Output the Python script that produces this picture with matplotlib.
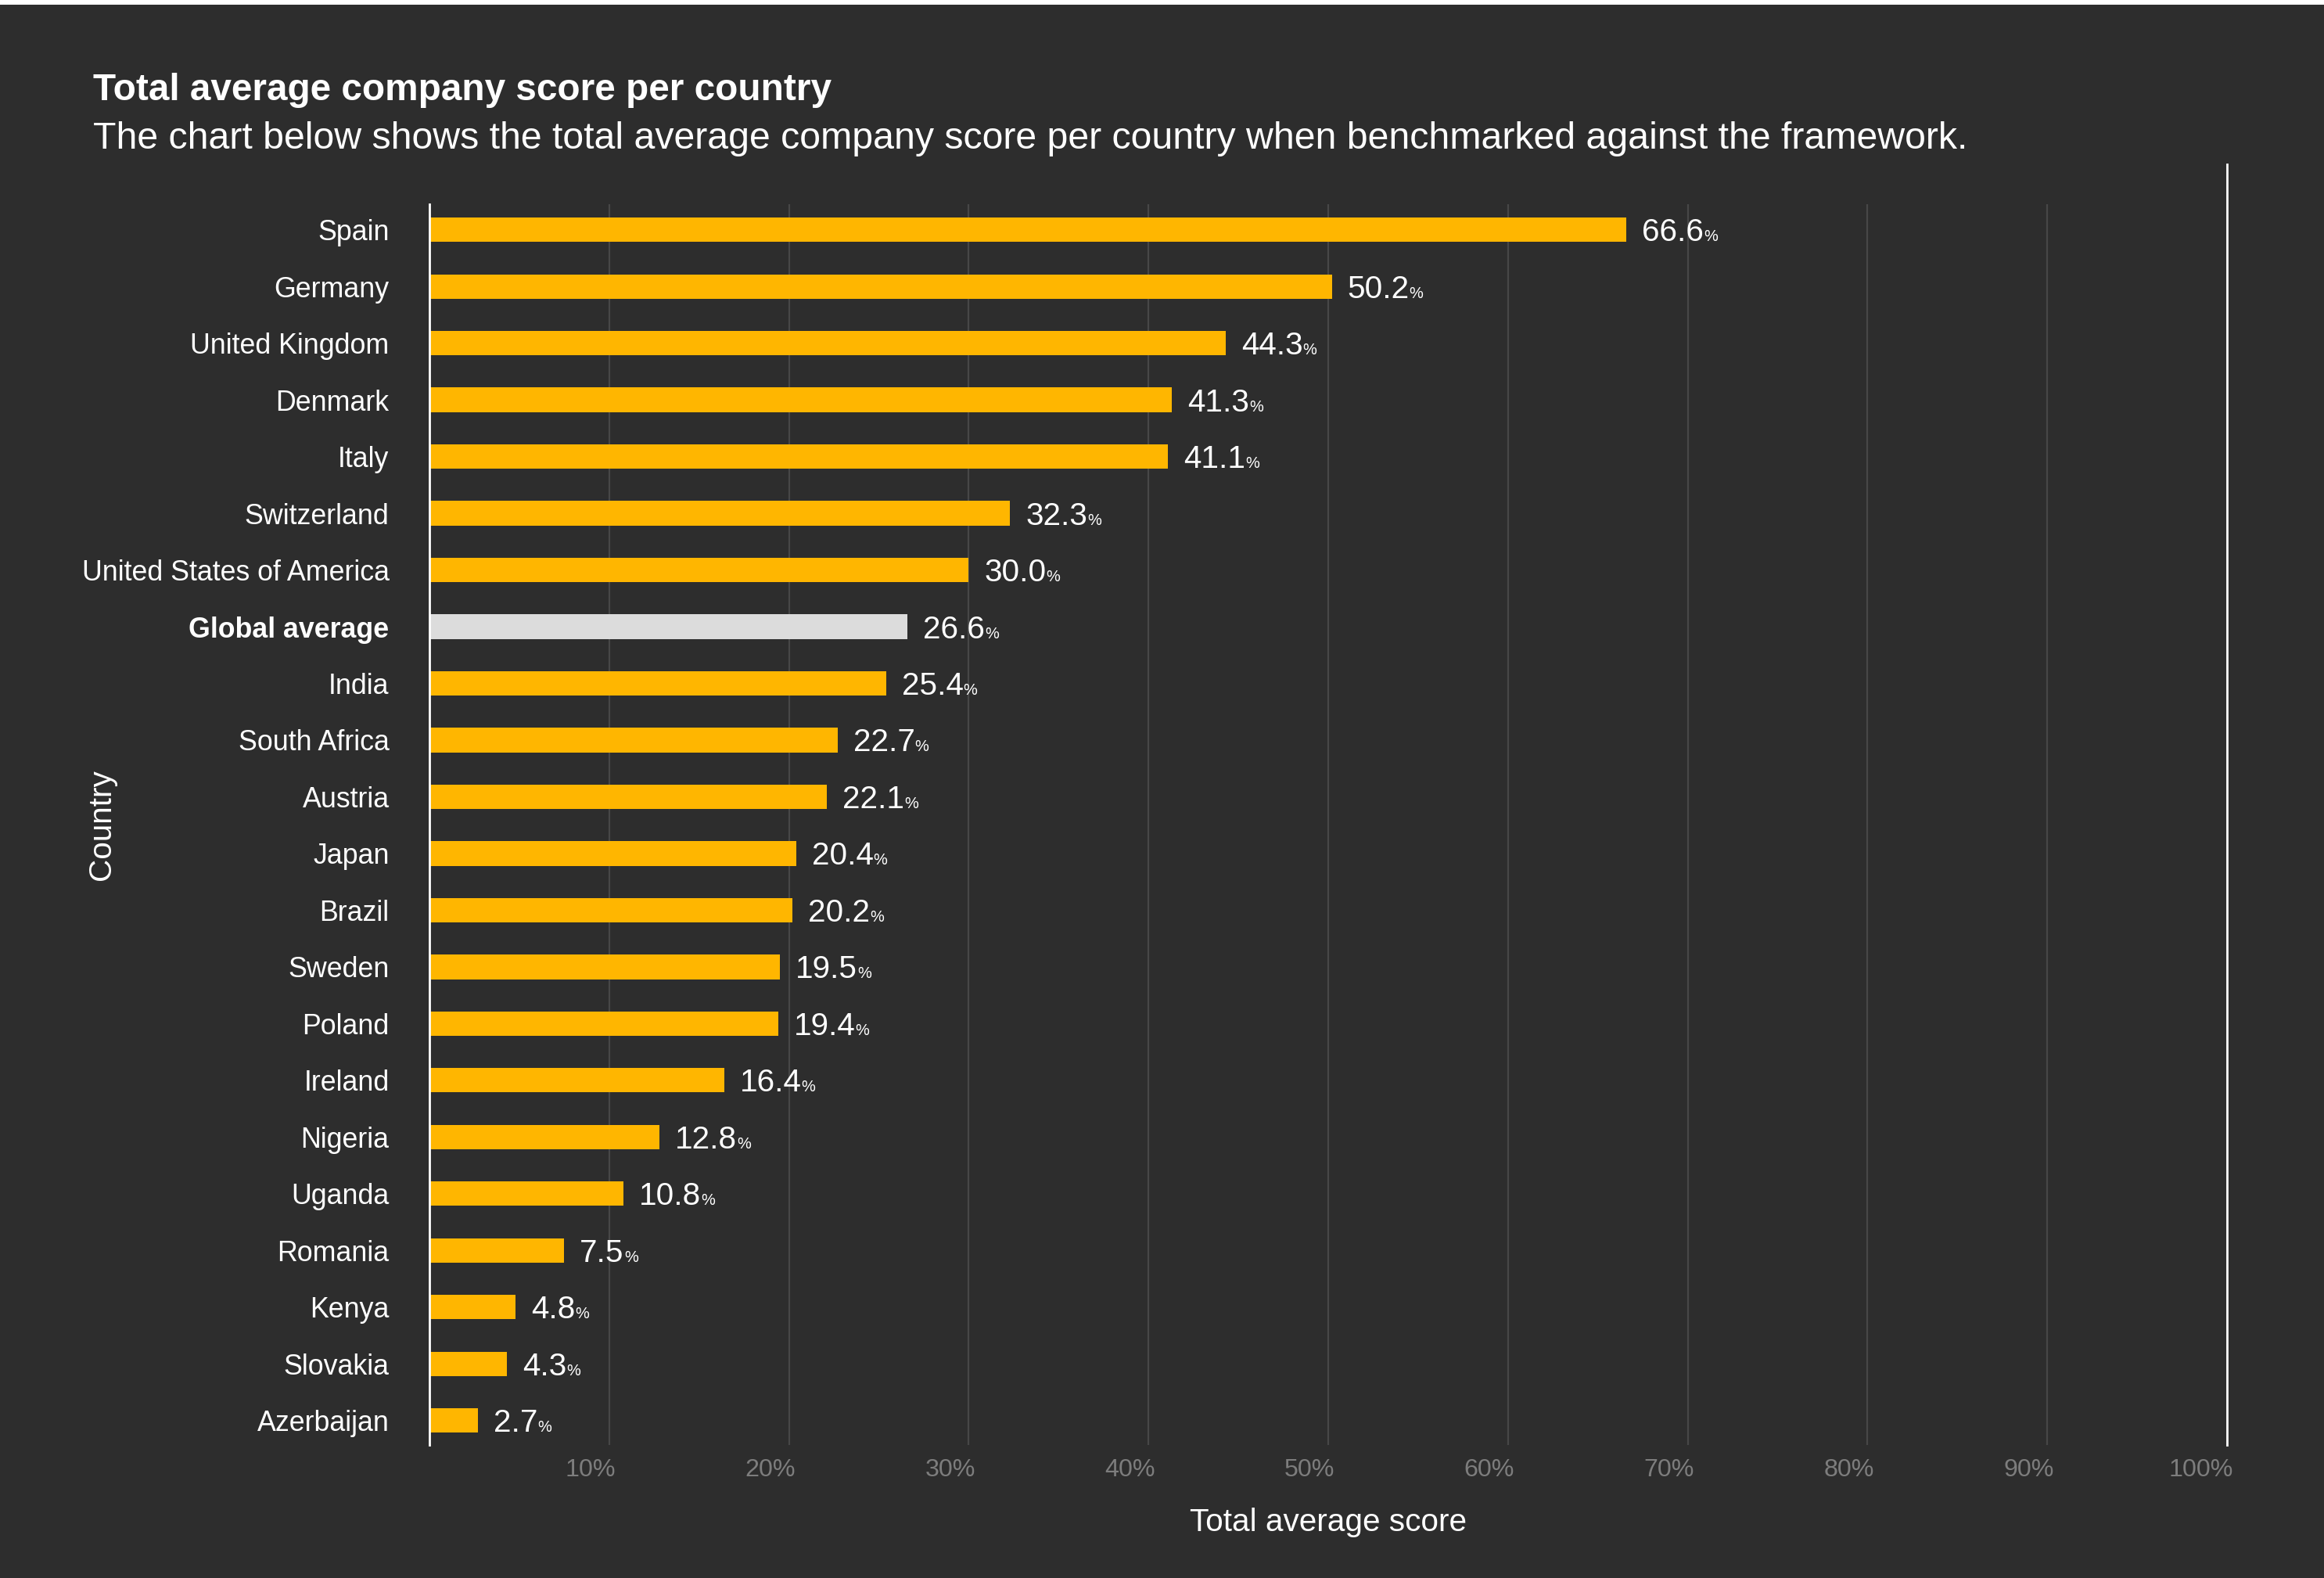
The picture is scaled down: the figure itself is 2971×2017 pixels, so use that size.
import matplotlib
matplotlib.use("Agg")
import matplotlib.pyplot as plt
import matplotlib.transforms as mtransforms

plt.rcParams['font.family'] = ['Liberation Sans', 'DejaVu Sans']

# data
countries = ["Spain", "Germany", "United Kingdom", "Denmark", "Italy", "Switzerland",
             "United States of America", "Global average", "India", "South Africa",
             "Austria", "Japan", "Brazil", "Sweden", "Poland", "Ireland", "Nigeria",
             "Uganda", "Romania", "Kenya", "Slovakia", "Azerbaijan"]
scores = [66.6, 50.2, 44.3, 41.3, 41.1, 32.3, 30.0, 26.6, 25.4, 22.7, 22.1, 20.4,
          20.2, 19.5, 19.4, 16.4, 12.8, 10.8, 7.5, 4.8, 4.3, 2.7]
highlight = "Global average"
xticks = [10, 20, 30, 40, 50, 60, 70, 80, 90, 100]
xtick_labels = ["10%", "20%", "30%", "40%", "50%", "60%", "70%", "80%", "90%", "100%"]

bg = "#2d2d2d"
yellow = "#ffb600"
grey_bar = "#dcdcdc"

fig = plt.figure(figsize=(14.855, 10.085), dpi=200, facecolor=bg)
ax = fig.add_axes([549 / 2971, 1 - 1847 / 2017, (2847 - 549) / 2971, (1847 - 261) / 2017])
ax.set_facecolor(bg)

# thin white strip on the very top
fig.patches.append(plt.Rectangle((0, 1 - 6 / 2017), 1, 6 / 2017, transform=fig.transFigure,
                                 facecolor="white", edgecolor="none"))

ypos = list(range(len(countries)))
colors = [grey_bar if c == highlight else yellow for c in countries]
ax.barh(ypos, scores, height=0.43, color=colors, zorder=3)

ax.set_xlim(0, 100)
ax.set_ylim(len(countries) - 1 + 0.43, -0.45)

for x in xticks[:-1]:
    ax.axvline(x, color="#474747", lw=0.8, zorder=1)
ax.axvline(100, ymin=0, ymax=1.032, color="white", lw=1.0, clip_on=False, zorder=2)

for s in ["top", "right", "bottom"]:
    ax.spines[s].set_visible(False)
ax.spines["left"].set_color("white")
ax.spines["left"].set_linewidth(1.0)
ax.spines["left"].set_zorder(4)

ax.set_yticks(ypos)
ax.set_yticklabels(countries, fontsize=12.9, color="white")
for lab in ax.get_yticklabels():
    if lab.get_text() == highlight:
        lab.set_fontweight("bold")
ax.tick_params(axis="y", length=0, pad=18.5)

ax.set_xticks(xticks)
ax.set_xticklabels(xtick_labels, fontsize=11.6, color="#7d7d7d")
ax.tick_params(axis="x", length=0, pad=6)
shift = mtransforms.ScaledTranslation(3 / 72, 0, fig.dpi_scale_trans)
for lab in ax.get_xticklabels():
    lab.set_horizontalalignment("right")
    lab.set_transform(lab.get_transform() + shift)

# value labels: number + small percent sign
for i, v in enumerate(scores):
    t = ax.annotate("%.1f" % v, xy=(v, i + 0.2), xytext=(7.2, 0), textcoords="offset points",
                    ha="left", va="baseline", fontsize=14.6, color="white", zorder=5)
    ax.annotate("%", xy=(1, i + 0.2), xycoords=(t, "data"), xytext=(0, 0),
                textcoords="offset points", ha="left", va="baseline", fontsize=7.2,
                color="white", zorder=5)

ax.set_xlabel("Total average score", fontsize=14.6, color="white", labelpad=12)
fig.text(130 / 2971, 1 - 1054 / 2017, "Country", rotation=90, ha="center", va="center",
         fontsize=14.6, color="white")

fig.text(119 / 2971, 1 - 128 / 2017, "Total average company score per country",
         fontsize=17.2, fontweight="bold", color="white", ha="left", va="baseline")
fig.text(119 / 2971, 1 - 190 / 2017,
         "The chart below shows the total average company score per country when benchmarked against the framework.",
         fontsize=17.4, color="white", ha="left", va="baseline")

fig.savefig("out.png", dpi=200, facecolor=bg)
